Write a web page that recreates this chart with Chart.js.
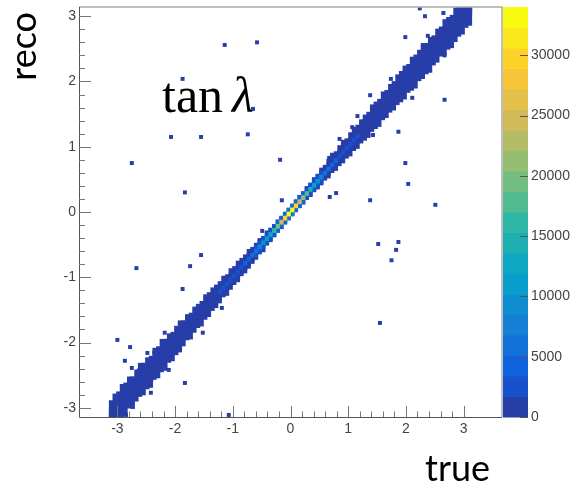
<!DOCTYPE html>
<html>
<head>
    <meta charset="utf-8" />
    <title>tan lambda: reco vs true</title>
    <script src="https://cdn.jsdelivr.net/npm/chart.js"></script>
    <style>
        html, body { margin: 0; padding: 0; background: #fff; }
        .chart-container { position: relative; width: 576px; height: 489px; }
    </style>
</head>
<body>
    <div class="chart-container">
        <canvas id="histChart"></canvas>
    </div>

    <script>
        // binning of the 2D histogram (true on x, reco on y)
        const nBins = 100;
        const axisMin = -Math.PI;
        const axisMax = Math.PI;
        const zMax = 34000;
        const nLevels = 20;

        const axisTicks = [-3, -2, -1, 0, 1, 2, 3];
        const zTicks = [0, 5000, 10000, 15000, 20000, 25000, 30000];

        // how far the filled band reaches below / above the diagonal, per true bin
        const spreadBelow = [
            0.24, 0.20, 0.27, 0.22, 0.25, 0.21, 0.28, 0.23, 0.22, 0.26,
            0.23, 0.27, 0.21, 0.25, 0.22, 0.26, 0.20, 0.24, 0.21, 0.23,
            0.20, 0.17, 0.22, 0.18, 0.17, 0.21, 0.17, 0.19, 0.16, 0.18,
            0.17, 0.14, 0.18, 0.15, 0.14, 0.16, 0.13, 0.15, 0.14, 0.13,
            0.13, 0.11, 0.14, 0.10, 0.11, 0.10, 0.09, 0.10, 0.08, 0.08,
            0.08, 0.08, 0.09, 0.10, 0.09, 0.11, 0.10, 0.12, 0.12, 0.11,
            0.14, 0.12, 0.15, 0.14, 0.16, 0.15, 0.18, 0.16, 0.19, 0.17,
            0.19, 0.21, 0.18, 0.20, 0.23, 0.19, 0.22, 0.20, 0.23, 0.21,
            0.23, 0.25, 0.21, 0.24, 0.27, 0.22, 0.25, 0.24, 0.28, 0.23,
            0.25, 0.22, 0.27, 0.24, 0.28, 0.25, 0.23, 0.26, 0.22, 0.25
        ];
        const spreadAbove = [
            0.22, 0.26, 0.23, 0.28, 0.24, 0.27, 0.21, 0.25, 0.29, 0.23,
            0.25, 0.21, 0.27, 0.23, 0.28, 0.22, 0.24, 0.20, 0.23, 0.25,
            0.19, 0.22, 0.18, 0.21, 0.19, 0.17, 0.21, 0.18, 0.19, 0.17,
            0.16, 0.18, 0.14, 0.17, 0.14, 0.16, 0.14, 0.13, 0.15, 0.12,
            0.12, 0.13, 0.10, 0.12, 0.10, 0.09, 0.10, 0.09, 0.08, 0.08,
            0.08, 0.09, 0.10, 0.09, 0.11, 0.10, 0.12, 0.11, 0.14, 0.12,
            0.15, 0.18, 0.14, 0.17, 0.19, 0.15, 0.18, 0.20, 0.17, 0.19,
            0.20, 0.18, 0.23, 0.21, 0.19, 0.24, 0.20, 0.23, 0.21, 0.25,
            0.24, 0.26, 0.22, 0.27, 0.24, 0.25, 0.29, 0.23, 0.26, 0.22,
            0.26, 0.23, 0.28, 0.25, 0.22, 0.27, 0.24, 0.25, 0.21, 0.24
        ];
        // entries in the diagonal bin, per true bin
        const peakCounts = [
            1200, 1300, 1250, 1350, 1300, 1400, 1350, 1300, 1400, 1350,
            1400, 1450, 1400, 1350, 1450, 1400, 1500, 1450, 1400, 1500,
            1450, 1500, 1550, 1500, 1450, 1550, 1500, 1600, 1500, 1600,
            1800, 1900, 2100, 2300, 2600, 2900, 3300, 3800, 4400, 5200,
            6200, 7400, 9000, 11000, 13500, 16500, 20000, 24500, 29000, 33500,
            33000, 29500, 25000, 21000, 17000, 14000, 11500, 9500, 7800, 6500,
            5400, 4600, 3900, 3300, 2900, 2500, 2200, 2000, 1800, 1600,
            1550, 1500, 1600, 1500, 1450, 1550, 1500, 1450, 1400, 1500,
            1450, 1400, 1450, 1400, 1350, 1400, 1350, 1400, 1300, 1350,
            1300, 1350, 1300, 1250, 1300, 1250, 1300, 1200, 1250, 1200
        ];
        // entries in the bins just above / below the diagonal, per true bin
        const sideCounts = [
            900, 900, 900, 900, 900, 900, 900, 900, 900, 900,
            900, 900, 900, 900, 900, 900, 900, 900, 900, 900,
            900, 900, 900, 900, 900, 900, 900, 900, 900, 900,
            900, 900, 900, 900, 900, 900, 900, 900, 900, 900,
            1800, 1900, 2100, 2300, 2500, 3000, 3600, 4200, 4800, 5300,
            5200, 4700, 4100, 3500, 3000, 2500, 2100, 1800, 1750, 900,
            900, 900, 900, 900, 900, 900, 900, 900, 900, 900,
            900, 900, 900, 900, 900, 900, 900, 900, 900, 900,
            900, 900, 900, 900, 900, 900, 900, 900, 900, 900,
            900, 900, 900, 900, 900, 900, 900, 900, 900, 900
        ];

        // isolated entries away from the band
        const outlierTrue = [
            -1.14, -0.58, -1.87, -2.07, -1.55, -0.74, -2.75, -0.18, -1.83, -0.65, -0.15,
            2.24, 2.33, 2.65, 1.99, 2.38, 2.67, 1.38, 2.11, 1.87, 1.43, 1.16, 1.99, 2.04, 1.38, 2.51, 0.68, 0.79,
            1.52, 1.87, 1.83, 1.75, 1.55, -0.49,
            -2.67, -1.55, -1.74, -1.87, -3.00, -2.78, -2.87, -1.83, -1.07, -2.18, -1.19, -2.75, -2.42, -2.85,
            -2.48, -2.36, -2.63, -2.41, -1.52, -2.11,
            1.07, 0.85, 0.67,
            1.74, 1.86, 2.53, 2.67, 2.93, 2.36
        ];
        const outlierReco = [
            2.56, 2.60, 2.04, 1.15, 1.15, 1.19, 0.75, 0.80, 0.30, 1.58, 0.18,
            3.12, 3.00, 3.05, 2.68, 2.70, 1.72, 1.79, 1.75, 1.23, 1.18, 1.47, 0.75, 0.43, 0.18, 0.11, 0.23, 0.29,
            -0.49, -0.46, -0.58, -0.74, -1.70, -0.29,
            -0.86, -0.66, -0.83, -1.18, -1.96, -2.07, -2.28, -2.62, -3.11, -1.85, -1.47, -2.39, -2.77, -3.11,
            -2.16, -2.16, -2.43, -2.56, -1.85, -2.42,
            1.30, 1.12, 0.83,
            2.04, 2.07, 2.42, 2.40, 2.79, 2.17
        ];

        // ROOT kBird palette
        const birdR = [0.2082, 0.0592, 0.0780, 0.0232, 0.1802, 0.5301, 0.8186, 0.9956, 0.9764];
        const birdG = [0.1664, 0.3599, 0.5041, 0.6419, 0.7178, 0.7492, 0.7328, 0.7862, 0.9832];
        const birdB = [0.5293, 0.8684, 0.8385, 0.7914, 0.6425, 0.4662, 0.3499, 0.1968, 0.0539];

        function birdColor(t) {
            const pos = Math.max(0, Math.min(1, t)) * 8;
            const k = Math.min(7, Math.floor(pos));
            const f = pos - k;
            const mix = arr => Math.round(255 * (arr[k] + (arr[k + 1] - arr[k]) * f));
            return 'rgb(' + mix(birdR) + ',' + mix(birdG) + ',' + mix(birdB) + ')';
        }
        function levelColor(level) {
            const idx = Math.min(254, Math.floor((level + 0.99) * 255 / nLevels));
            return birdColor(idx / 254);
        }
        function countColor(count) {
            const level = Math.min(nLevels - 1, Math.floor(count / (zMax / nLevels)));
            return levelColor(level);
        }

        const binWidth = (axisMax - axisMin) / nBins;
        const binCenters = [];
        for (let i = 0; i < nBins; i++) {
            binCenters.push(axisMin + (i + 0.5) * binWidth);
        }

        const bandData = binCenters.map((c, i) => ({ x: c, y: [c - spreadBelow[i], c + spreadAbove[i]] }));
        const sideData = binCenters.map((c, i) => ({ x: c, y: [c - 1.5 * binWidth, c + 1.5 * binWidth], count: sideCounts[i] }));
        const peakData = binCenters.map((c, i) => ({ x: c, y: [c - 0.5 * binWidth, c + 0.5 * binWidth], count: peakCounts[i] }));
        const outlierData = outlierTrue.map((t, i) => ({ x: t, y: outlierReco[i] }));

        // frame, inward ticks, colour bar and texts in ROOT style
        const rootStyle = {
            id: 'rootStyle',
            afterDraw(chart) {
                const c = chart.ctx;
                const area = chart.chartArea;
                const xs = chart.scales.x;
                const ys = chart.scales.y;
                const zs = chart.scales.z;
                c.save();

                // colour bar
                const barL = area.right + 1;
                const barW = 25;
                for (let k = 0; k < nLevels; k++) {
                    const y0 = zs.getPixelForValue(k * zMax / nLevels);
                    const y1 = zs.getPixelForValue((k + 1) * zMax / nLevels);
                    c.fillStyle = levelColor(k);
                    c.fillRect(barL, y1, barW, y0 - y1 + 0.5);
                }
                c.strokeStyle = '#555';
                c.lineWidth = 1;
                zTicks.forEach(v => {
                    const py = Math.round(zs.getPixelForValue(v)) + 0.5;
                    c.beginPath();
                    c.moveTo(barL + barW, py);
                    c.lineTo(barL + barW - 8, py);
                    c.stroke();
                });

                // frame
                c.strokeStyle = '#aaa';
                c.lineWidth = 1.5;
                c.beginPath();
                c.moveTo(area.left, area.top);
                c.lineTo(area.right, area.top);
                c.lineTo(area.right, area.bottom);
                c.stroke();
                c.strokeStyle = '#555';
                c.lineWidth = 1;
                c.beginPath();
                c.moveTo(area.left + 0.5, area.top);
                c.lineTo(area.left + 0.5, area.bottom + 0.5);
                c.lineTo(area.right, area.bottom + 0.5);
                c.stroke();

                // major + minor ticks pointing into the frame
                c.strokeStyle = '#777';
                for (let v = -3.2; v <= 3.21; v += 0.2) {
                    const val = Math.round(v * 10) / 10;
                    if (val < axisMin || val > axisMax) continue;
                    const major = Math.abs(val - Math.round(val)) < 1e-6;
                    const px = Math.round(xs.getPixelForValue(val)) + 0.5;
                    c.beginPath();
                    c.moveTo(px, area.bottom);
                    c.lineTo(px, area.bottom - (major ? 11 : 5.5));
                    c.stroke();
                    const py = Math.round(ys.getPixelForValue(val)) + 0.5;
                    c.beginPath();
                    c.moveTo(area.left, py);
                    c.lineTo(area.left + (major ? 12 : 6), py);
                    c.stroke();
                }

                // axis titles
                c.fillStyle = '#000';
                c.font = '36px Lato';
                c.textBaseline = 'alphabetic';
                c.textAlign = 'left';
                c.fillText('true', 425, 481);
                c.save();
                c.translate(36, 12);
                c.rotate(-Math.PI / 2);
                c.textAlign = 'right';
                c.fillText('reco', 0, 0);
                c.restore();

                // variable name
                c.textAlign = 'left';
                c.font = '50px "Liberation Serif"';
                c.fillText('tan', 162, 112);
                const w = c.measureText('tan').width;
                c.font = 'italic 50px "Liberation Serif"';
                c.fillText('\u03bb', 162 + w + 9, 112);

                c.restore();
            }
        };

        const tickFont = { family: 'Liberation Sans', size: 14 };
        const plainLabel = v => String(v);
        const noPad = s => { s.paddingTop = 0; s.paddingBottom = 0; s.paddingLeft = 0; s.paddingRight = 0; };

        const ctx = document.getElementById('histChart').getContext('2d');
        const histChart = new Chart(ctx, {
            type: 'bar',
            data: {
                datasets: [{
                    type: 'scatter',
                    data: outlierData,
                    pointStyle: 'rect',
                    pointRadius: 2.8,
                    backgroundColor: countColor(1),
                    borderWidth: 0,
                    order: 1
                }, {
                    data: peakData,
                    backgroundColor: c => countColor(c.raw ? c.raw.count : 0),
                    order: 2
                }, {
                    data: sideData,
                    backgroundColor: c => countColor(c.raw ? c.raw.count : 0),
                    order: 3
                }, {
                    data: bandData,
                    backgroundColor: countColor(1),
                    order: 4
                }]
            },
            options: {
                responsive: true,
                maintainAspectRatio: false,
                animation: false,
                layout: { padding: { top: 7, left: 0, right: 0, bottom: 0 } },
                datasets: {
                    bar: {
                        grouped: false,
                        categoryPercentage: 1,
                        barPercentage: 1,
                        borderWidth: 0
                    }
                },
                plugins: {
                    legend: { display: false },
                    tooltip: { enabled: false }
                },
                scales: {
                    x: {
                        type: 'linear',
                        min: axisMin,
                        max: axisMax,
                        afterBuildTicks: s => { s.ticks = axisTicks.map(v => ({ value: v })); },
                        afterFit: s => { s.height = 72; noPad(s); },
                        ticks: { font: tickFont, color: '#444', padding: 4, maxRotation: 0, autoSkip: false, callback: plainLabel },
                        grid: { display: false, drawTicks: false },
                        border: { display: false }
                    },
                    y: {
                        type: 'linear',
                        min: axisMin,
                        max: axisMax,
                        afterBuildTicks: s => { s.ticks = axisTicks.map(v => ({ value: v })); },
                        afterFit: s => { s.width = 79; noPad(s); },
                        ticks: { font: tickFont, color: '#444', padding: 3, autoSkip: false, callback: plainLabel },
                        grid: { display: false, drawTicks: false },
                        border: { display: false }
                    },
                    z: {
                        type: 'linear',
                        position: 'right',
                        min: 0,
                        max: zMax,
                        afterBuildTicks: s => { s.ticks = zTicks.map(v => ({ value: v })); },
                        afterFit: s => { s.width = 74; noPad(s); },
                        ticks: { font: tickFont, color: '#444', padding: 29, autoSkip: false, callback: plainLabel },
                        grid: { display: false, drawTicks: false },
                        border: { display: false }
                    }
                }
            },
            plugins: [rootStyle]
        });
    </script>
</body>
</html>
